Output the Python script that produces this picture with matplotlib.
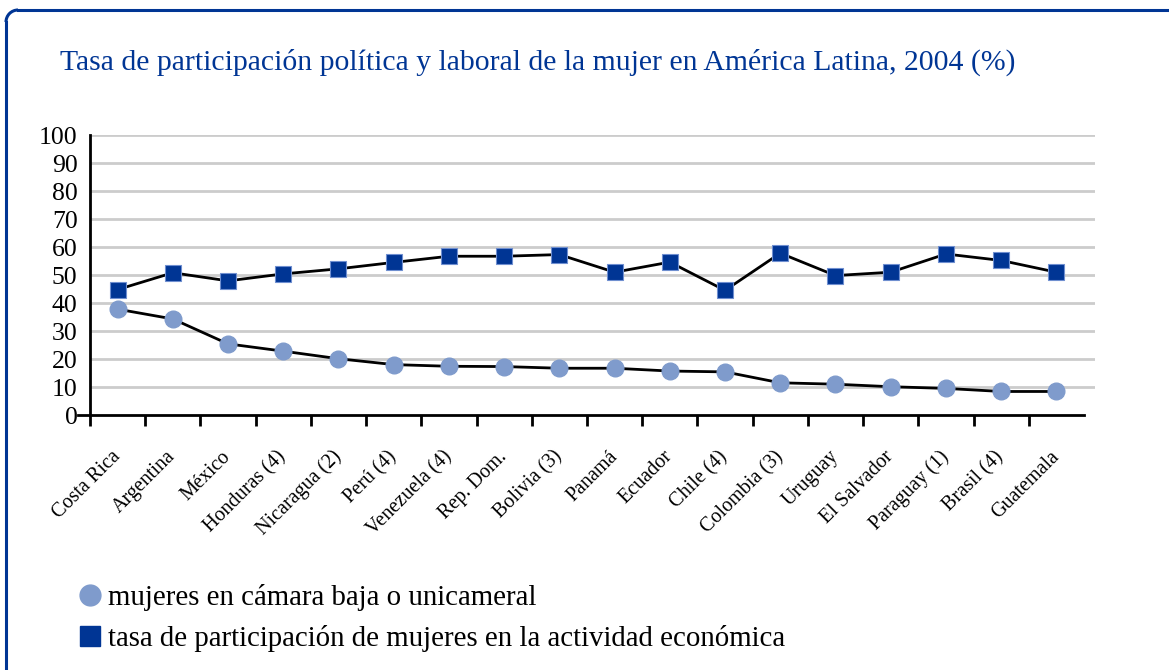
import matplotlib
matplotlib.use("Agg")
import matplotlib.pyplot as plt
from matplotlib.lines import Line2D
from matplotlib.patches import Arc
from matplotlib.transforms import IdentityTransform

# data
paises = ["Costa Rica", "Argentina", "México", "Honduras (4)", "Nicaragua (2)",
          "Perú (4)", "Venezuela (4)", "Rep. Dom.", "Bolivia (3)", "Panamá",
          "Ecuador", "Chile (4)", "Colombia (3)", "Uruguay", "El Salvador",
          "Paraguay (1)", "Brasil (4)", "Guatemala"]
camara = [37.8, 34.3, 25.4, 22.8, 20.1, 18.0, 17.4, 17.3, 16.7, 16.7,
          15.7, 15.4, 11.5, 11.0, 10.1, 9.5, 8.4, 8.4]
actividad = [44.8, 50.8, 47.9, 50.4, 52.2, 54.5, 56.7, 56.7, 57.3, 51.0,
             54.6, 44.5, 57.8, 49.8, 51.0, 57.5, 55.2, 51.0]
yticks = [0, 10, 20, 30, 40, 50, 60, 70, 80, 90, 100]

serif = "Liberation Serif"
azul = "#003594"
celeste = "#7f9bcc"

fig = plt.figure(figsize=(11.69, 6.70), dpi=100)
fig.patch.set_facecolor("white")

# frame (top and left edges with rounded corner), drawn in pixels
px = IdentityTransform()
r = 12
x0, ytop = 6, 670 - 10
fig.add_artist(Line2D([x0 + r, 1169], [ytop, ytop], color=azul, lw=2.2, transform=px))
fig.add_artist(Line2D([x0, x0], [0, ytop - r], color=azul, lw=2.2, transform=px))
fig.add_artist(Arc((x0 + r, ytop - r), 2 * r, 2 * r, theta1=90, theta2=180,
                   color=azul, lw=2.2, transform=px))

fig.text(60 / 1169, 1 - 62 / 670,
         "Tasa de participación política y laboral de la mujer en América Latina, 2004 (%)",
         color=azul, fontsize=21.4, family=serif, va="center", ha="left")

ax = fig.add_axes([90 / 1169, 1 - 415 / 670, 1005 / 1169, 280 / 670])
x = list(range(len(paises)))

for v in yticks[1:]:
    ax.axhline(v, color="#cccccc", lw=2, zorder=0)

ax.plot(x, actividad, color="black", lw=2, marker="s", ms=12,
        mfc=azul, mec="#6f8fd0", mew=0.8, zorder=3)
ax.plot(x, camara, color="black", lw=2, marker="o", ms=12,
        mfc=celeste, mec=celeste, zorder=3)

ax.set_ylim(0, 100)
ax.set_xlim(-0.5, 17.7)
ax.set_yticks(yticks)
ax.set_yticklabels([str(v) for v in yticks], fontsize=18.5, family=serif)
ax.tick_params(axis="y", length=0, pad=9)

ax.set_xticks([i - 0.5 for i in range(len(paises))])
ax.set_xticklabels([])
ax.tick_params(axis="x", which="major", length=8, width=2, direction="out", color="black")
ax.set_xticks(x, minor=True)
ax.set_xticklabels(paises, minor=True, rotation=45, ha="right", va="center",
                   rotation_mode="anchor", fontsize=14.5, family=serif)
ax.tick_params(axis="x", which="minor", length=0, pad=28)

for s in ["top", "right"]:
    ax.spines[s].set_visible(False)
ax.spines["left"].set_linewidth(2)
ax.spines["bottom"].set_linewidth(2)
ax.spines["bottom"].set_bounds(-0.72, 17.5)
ax.set_facecolor("none")

handles = [Line2D([], [], ls="none", marker="o", ms=15, mfc=celeste, mec=celeste),
           Line2D([], [], ls="none", marker="s", ms=14, mfc=azul, mec=azul)]
fig.legend(handles, ["mujeres en cámara baja o unicameral",
                     "tasa de participación de mujeres en la actividad económica"],
           loc="upper left", bbox_to_anchor=(52 / 1169, 1 - 558 / 670),
           frameon=False, handlelength=0.8, handletextpad=0.25, labelspacing=0.5,
           prop={"family": serif, "size": 20.8})

fig.savefig("out.png", dpi=100)
